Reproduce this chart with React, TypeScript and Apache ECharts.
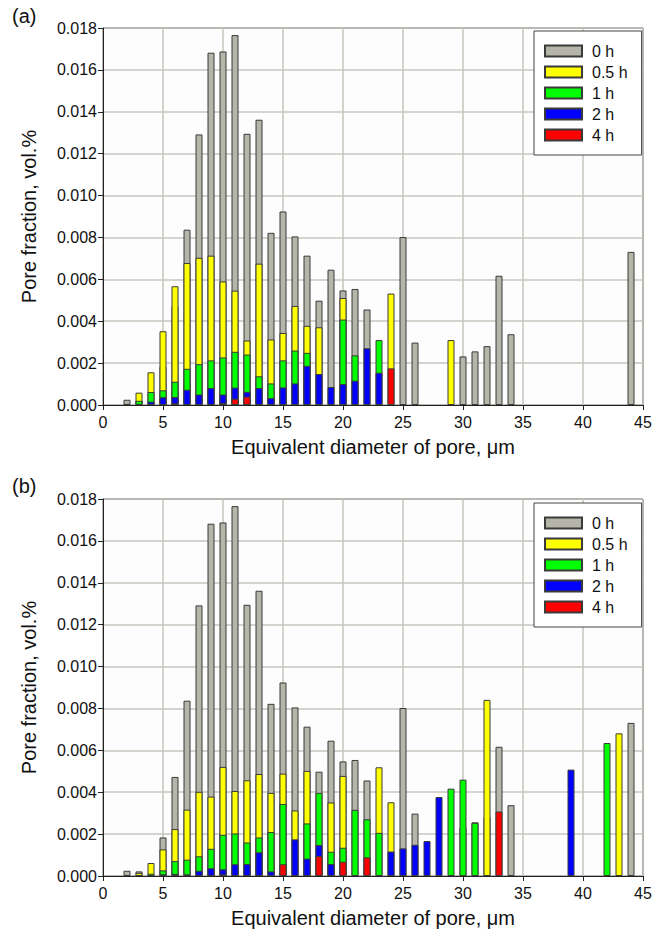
import React, { useEffect, useRef } from 'react';
import * as echarts from 'echarts';

// Series names and colours
const seriesNames = ['0 h', '0.5 h', '1 h', '2 h', '4 h'];
const seriesColors = ['#b5b5a9', '#ffff00', '#00ff00', '#0000ff', '#ff0000'];

// X ticks 0..45 step 5, Y ticks 0..0.018 step 0.002
const xMin = 0, xMax = 45, xStep = 5;
const yMin = 0, yMax = 0.018, yStep = 0.002;

// 0 h (same in both panels) : [diameter, fraction]
const gray0h: [number, number][] = [
  [2, 0.00025], [3, 0.00022], [5, 0.00184], [6, 0.00473], [7, 0.00837], [8, 0.01292],
  [9, 0.01682], [10, 0.01688], [11, 0.01766], [12, 0.01295], [13, 0.01362], [14, 0.00822],
  [15, 0.00924], [16, 0.00805], [17, 0.00713], [18, 0.00498], [19, 0.00646], [20, 0.00547],
  [21, 0.00554], [22, 0.00456], [25, 0.00802], [26, 0.00298], [30, 0.00232], [31, 0.00256],
  [32, 0.00281], [33, 0.00617], [34, 0.00338], [44, 0.00731],
];

// Panel (a)
const aYellow: [number, number][] = [
  [3, 0.00059], [4, 0.00156], [5, 0.00352], [6, 0.00567], [7, 0.00678], [8, 0.00703],
  [9, 0.00713], [10, 0.0059], [11, 0.00546], [12, 0.00308], [13, 0.00675], [14, 0.00313],
  [15, 0.00344], [16, 0.00473], [17, 0.00378], [18, 0.00371], [20, 0.00511], [24, 0.00532],
  [29, 0.0031],
];
const aGreen: [number, number][] = [
  [3, 0.0002], [4, 0.00062], [5, 0.0007], [6, 0.00111], [7, 0.00173], [8, 0.00195],
  [9, 0.00213], [10, 0.00227], [11, 0.00254], [12, 0.00241], [13, 0.00137], [14, 0.00103],
  [15, 0.00213], [16, 0.0026], [17, 0.00249], [20, 0.00408], [21, 0.00237], [23, 0.0031],
];
const aBlue: [number, number][] = [
  [2, 0.00005], [4, 0.00016], [5, 0.00037], [6, 0.00038], [7, 0.00073], [8, 0.0005],
  [9, 0.00081], [10, 0.0005], [11, 0.00083], [12, 0.00063], [13, 0.00081], [14, 0.00033],
  [15, 0.00084], [16, 0.00103], [17, 0.00187], [18, 0.00148], [19, 0.00086], [20, 0.001],
  [21, 0.00116], [22, 0.00271], [23, 0.00154],
];
const aRed: [number, number][] = [
  [3, 0.00005], [6, 0.00008], [7, 0.00005], [8, 0.00005], [9, 0.00005], [10, 0.0001],
  [11, 0.0003], [12, 0.0004], [24, 0.00175],
];

// Panel (b)
const bYellow: [number, number][] = [
  [3, 0.00015], [4, 0.00062], [5, 0.00127], [6, 0.00224], [7, 0.00317], [8, 0.00402],
  [9, 0.00379], [10, 0.00521], [11, 0.00406], [12, 0.00457], [13, 0.00487], [14, 0.00397],
  [15, 0.00489], [16, 0.00313], [17, 0.00502], [19, 0.00351], [20, 0.00478], [23, 0.00519],
  [24, 0.00352], [32, 0.00841], [43, 0.00681],
];
const bGreen: [number, number][] = [
  [4, 0.00011], [5, 0.00027], [6, 0.00071], [7, 0.00078], [8, 0.00094], [9, 0.0013],
  [10, 0.00197], [11, 0.00203], [12, 0.0016], [13, 0.00184], [14, 0.0021], [15, 0.00344],
  [17, 0.00251], [18, 0.00397], [19, 0.00116], [20, 0.00135], [21, 0.00316], [22, 0.00271],
  [23, 0.00206], [29, 0.00417], [30, 0.0046], [31, 0.00254], [42, 0.00635],
];
const bBlue: [number, number][] = [
  [5, 0.00008], [6, 0.0001], [7, 0.00008], [8, 0.00025], [9, 0.00037], [10, 0.00032],
  [11, 0.00056], [12, 0.00057], [13, 0.00113], [14, 0.00022], [16, 0.00175], [17, 0.00083],
  [18, 0.00148], [19, 0.00057], [24, 0.00117], [25, 0.00132], [26, 0.00149], [27, 0.00167],
  [28, 0.00377], [39, 0.00508],
];
const bRed: [number, number][] = [
  [9, 0.00005], [10, 0.00008], [15, 0.00056], [18, 0.00095], [20, 0.00068], [22, 0.00089],
  [33, 0.00308],
];

const panelA = [gray0h, aYellow, aGreen, aBlue, aRed];
const panelB = [gray0h, bYellow, bGreen, bBlue, bRed];

const FONT = '"Liberation Sans", Arial, sans-serif';

export default function App() {
  const ref = useRef<HTMLDivElement>(null);
  useEffect(() => {
    if (!ref.current) return;
    const chart = echarts.init(ref.current, undefined, { renderer: 'svg' });

    const grids = [
      { left: 103, width: 540, top: 28, height: 377 },
      { left: 103, width: 540, top: 499, height: 377 },
    ];

    const xAxis = grids.map((_, i) => ({
      type: 'value',
      gridIndex: i,
      min: xMin,
      max: xMax,
      interval: xStep,
      name: 'Equivalent diameter of pore, μm',
      nameLocation: 'middle',
      nameGap: 32,
      nameTextStyle: { fontSize: 20, color: '#111', fontFamily: FONT },
      axisLine: { show: true, onZero: false, lineStyle: { color: '#222', width: 1 } },
      axisTick: { show: true, inside: false, length: 5, lineStyle: { color: '#222' } },
      axisLabel: { fontSize: 16, color: '#111', fontFamily: FONT, margin: 9 },
      splitLine: { show: true, lineStyle: { color: '#c6c6be', width: 1.5 } },
    }));

    const yAxis = grids.map((_, i) => ({
      type: 'value',
      gridIndex: i,
      min: yMin,
      max: yMax,
      interval: yStep,
      name: 'Pore fraction, vol.%',
      nameLocation: 'middle',
      nameGap: 64,
      nameTextStyle: { fontSize: 20, color: '#111', fontFamily: FONT },
      axisLine: { show: true, lineStyle: { color: '#222', width: 1 } },
      axisTick: { show: true, inside: false, length: 5, lineStyle: { color: '#222' } },
      axisLabel: {
        fontSize: 16, color: '#111', fontFamily: FONT, margin: 6,
        formatter: (v: number) => v.toFixed(3),
      },
      splitLine: { show: true, lineStyle: { color: '#c6c6be', width: 1.5 } },
    }));

    const mkSeries = (panel: [number, number][][], gi: number) =>
      panel.map((data, k) => ({
        type: 'bar',
        name: seriesNames[k],
        xAxisIndex: gi,
        yAxisIndex: gi,
        data,
        barWidth: 7,
        barGap: '-100%',
        itemStyle: { color: seriesColors[k], borderColor: '#3a3a3a', borderWidth: 1 },
      }));

    const legends = [31, 503].map((top) => ({
      show: true,
      orient: 'vertical',
      left: 534,
      top,
      width: 105,
      padding: [12, 14, 12, 10],
      itemGap: 5,
      itemWidth: 37,
      itemHeight: 11,
      icon: 'rect',
      borderColor: '#444',
      borderWidth: 1,
      backgroundColor: '#ffffff',
      selectedMode: false,
      data: seriesNames,
      textStyle: { fontSize: 16, lineHeight: 16, color: '#111', fontFamily: FONT, padding: [0, 0, 0, 5] },
    }));

    chart.setOption({
      animation: false,
      backgroundColor: '#ffffff',
      grid: grids.map((g) => ({ ...g, show: true, borderColor: '#222', borderWidth: 1, backgroundColor: '#fdfdfd' })),
      xAxis,
      yAxis,
      legend: legends,
      series: [...mkSeries(panelA, 0), ...mkSeries(panelB, 1)],
      graphic: [
        { type: 'text', left: 12, top: 6, style: { text: '(a)', fontSize: 20, fill: '#111', fontFamily: FONT } },
        { type: 'text', left: 12, top: 476, style: { text: '(b)', fontSize: 20, fill: '#111', fontFamily: FONT } },
      ],
    } as any);

    return () => chart.dispose();
  }, []);

  return (
    <div
      ref={ref}
      style={{ position: 'fixed', left: 0, top: 0, width: 662, height: 931, background: '#fff' }}
    />
  );
}
